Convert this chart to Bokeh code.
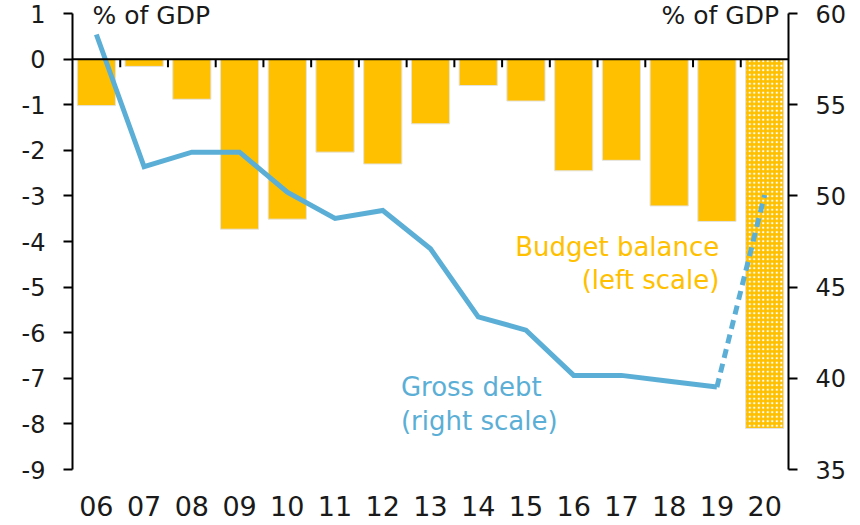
from bokeh.plotting import figure
from bokeh.models import (ColumnDataSource, Range1d, LinearAxis, FixedTicker, Span, Label)
from bokeh.embed import file_html
from bokeh.resources import INLINE

years = ["06", "07", "08", "09", "10", "11", "12", "13", "14", "15", "16", "17", "18", "19", "20"]
balance = [-1.02, -0.16, -0.88, -3.73, -3.51, -2.04, -2.30, -1.42, -0.58, -0.92, -2.45, -2.22, -3.22, -3.56, -8.1]
debt = [58.85, 51.6, 52.4, 52.4, 50.2, 48.77, 49.2, 47.1, 43.37, 42.64, 40.16, 40.16, 39.84, 39.52, 50.05]
left_ticks = [1, 0, -1, -2, -3, -4, -5, -6, -7, -8, -9]
right_ticks = [35, 40, 45, 50, 55, 60]

FONT = "DejaVu Sans"
YELLOW = "#FFC000"
BLUE = "#5BAFD6"
INK = "#1a1a1a"

n = len(years)
xs = [i + 0.5 for i in range(n)]

# extra headroom above the top tick so that the unit labels are not clipped
pad = 13 / 455
lmin, lmax = min(left_ticks), max(left_ticks)
rmin, rmax = min(right_ticks), max(right_ticks)

p = figure(width=860, height=525, output_backend="svg", toolbar_location=None,
           x_range=Range1d(0, n),
           y_range=Range1d(lmin, lmax + (lmax - lmin) * pad),
           min_border_left=72, min_border_right=72, min_border_top=0, min_border_bottom=56)
p.outline_line_color = None
p.grid.visible = False
p.background_fill_color = "white"
p.border_fill_color = "white"

p.extra_y_ranges = {"debt": Range1d(rmin, rmax + (rmax - rmin) * pad)}

# Bars (actual years)
src = ColumnDataSource(dict(x=xs[:-1], top=[0] * (n - 1), bottom=balance[:-1]))
p.vbar(x="x", top="top", bottom="bottom", width=0.8, source=src,
       fill_color=YELLOW, line_color="#E3E3E3", line_width=1)
# Forecast bar (hatched)
src_f = ColumnDataSource(dict(x=xs[-1:], top=[0], bottom=balance[-1:]))
p.vbar(x="x", top="top", bottom="bottom", width=0.8, source=src_f,
       fill_color=YELLOW, line_color="#E3E3E3", line_width=1,
       hatch_pattern="dot", hatch_color="white", hatch_scale=4.5, hatch_weight=2.5)

# Zero line and category boundary ticks
p.add_layout(Span(location=0, dimension="width", line_color="black", line_width=2))
bounds = [i for i in range(1, n)]
p.segment(x0=bounds, x1=bounds, y0=[0] * len(bounds), y1=[-0.18] * len(bounds),
          line_color="black", line_width=2)

# Debt line
p.line(xs[:-1], debt[:-1], y_range_name="debt", line_color=BLUE, line_width=5,
       line_join="miter")
p.line(xs[-2:], debt[-2:], y_range_name="debt", line_color=BLUE, line_width=5,
       line_dash="9 6")

# Axes
p.xaxis.ticker = FixedTicker(ticks=xs)
p.xaxis.major_label_overrides = {x: y for x, y in zip(xs, years)}
p.xaxis.axis_line_color = None
p.xaxis.major_tick_line_color = None
p.xaxis.minor_tick_line_color = None
p.xaxis.major_label_standoff = 20
p.xaxis.major_label_text_font = FONT
p.xaxis.major_label_text_font_size = "27px"
p.xaxis.major_label_text_color = INK

ya = p.yaxis[0]
ya.ticker = FixedTicker(ticks=left_ticks)
ya.bounds = (lmin, lmax)
ya.major_label_overrides = {t: str(t) for t in left_ticks}
ya.axis_line_width = 2
ya.major_tick_line_width = 2
ya.major_tick_out = 9
ya.major_tick_in = 0
ya.minor_tick_line_color = None
ya.major_label_standoff = 18
ya.major_label_text_font = FONT
ya.major_label_text_font_size = "24px"
ya.major_label_text_color = INK

ra = LinearAxis(y_range_name="debt", ticker=FixedTicker(ticks=right_ticks), bounds=(rmin, rmax))
ra.axis_line_width = 2
ra.major_tick_line_width = 2
ra.major_tick_out = 9
ra.major_tick_in = 0
ra.minor_tick_line_color = None
ra.major_label_standoff = 18
ra.major_label_text_font = FONT
ra.major_label_text_font_size = "24px"
ra.major_label_text_color = INK
p.add_layout(ra, "right")

# Annotations
lab = dict(text_font=FONT, text_font_size="25px", text_baseline="middle")
lab2 = dict(text_font=FONT, text_font_size="26px", text_baseline="middle")
p.add_layout(Label(x=0.42, y=0.96, text="% of GDP", text_color=INK, text_align="left", **lab))
p.add_layout(Label(x=14.8, y=0.96, text="% of GDP", text_color=INK, text_align="right", **lab))
p.add_layout(Label(x=13.55, y=-4.12, text="Budget balance", text_color=YELLOW, text_align="right", **lab2))
p.add_layout(Label(x=13.55, y=-4.85, text="(left scale)", text_color=YELLOW, text_align="right", **lab2))
p.add_layout(Label(x=6.88, y=-7.2, text="Gross debt", text_color=BLUE, text_align="left", **lab2))
p.add_layout(Label(x=6.88, y=-7.93, text="(right scale)", text_color=BLUE, text_align="left", **lab2))

open("out.html", "w").write(file_html(p, INLINE))
